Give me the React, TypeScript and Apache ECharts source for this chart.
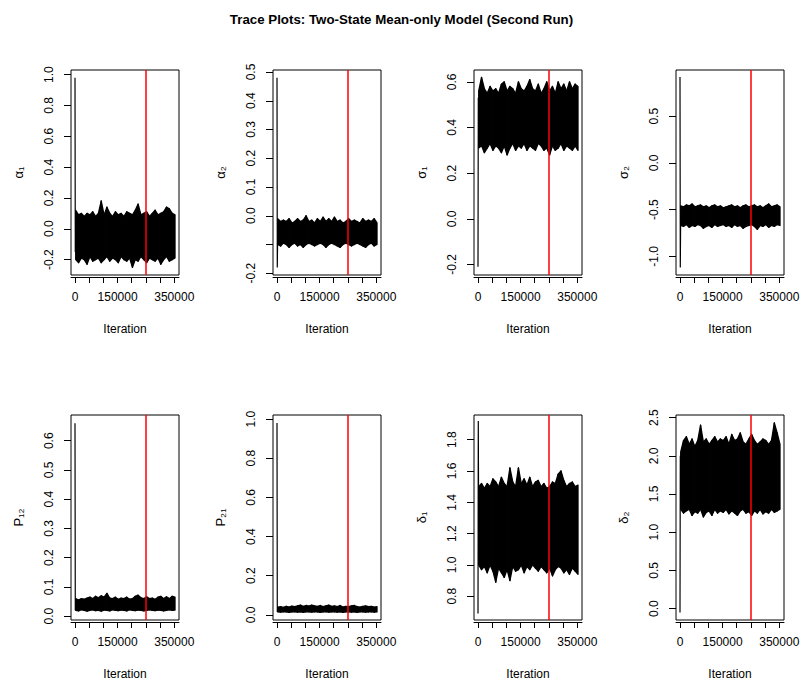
import React, { useEffect, useRef } from "react";
import * as echarts from "echarts";

// Sampled iterations for the trace envelopes (thinned)
const iterations = [
  2500, 12500, 22500, 32500, 42500, 52500, 62500, 72500, 82500, 92500,
  102500, 112500, 122500, 132500, 142500, 152500, 162500, 172500, 182500, 192500,
  202500, 212500, 222500, 232500, 242500, 252500, 262500, 272500, 282500, 292500,
  302500, 312500, 322500, 332500, 342500, 352500,
];
const spikeIterations = [0, 1000, 2500];
const burnIn = 250000;
const xTicks = [0, 50000, 100000, 150000, 200000, 250000, 300000, 350000];
const xTickLabels = [0, 150000, 350000];

// alpha_1
const alpha1Upper = [0.12, 0.09, 0.1, 0.08, 0.1, 0.09, 0.11, 0.08, 0.1, 0.18, 0.09, 0.14, 0.1, 0.08, 0.11, 0.09, 0.1, 0.08, 0.11, 0.1, 0.09, 0.12, 0.16, 0.09, 0.1, 0.11, 0.08, 0.1, 0.12, 0.09, 0.1, 0.11, 0.14, 0.13, 0.1, 0.09];
const alpha1Lower = [-0.2, -0.22, -0.19, -0.2, -0.23, -0.18, -0.21, -0.2, -0.19, -0.22, -0.2, -0.18, -0.21, -0.19, -0.2, -0.22, -0.18, -0.2, -0.21, -0.19, -0.25, -0.2, -0.21, -0.18, -0.2, -0.22, -0.19, -0.2, -0.21, -0.19, -0.23, -0.2, -0.18, -0.21, -0.2, -0.19];
const alpha1Spike = [0.98, -0.15, 0.05];
const alpha1Ticks = [-0.2, 0, 0.2, 0.4, 0.6, 0.8, 1.0];
const alpha1Labels = [-0.2, 0, 0.2, 0.4, 0.6, 0.8, 1.0];

// alpha_2
const alpha2Upper = [-0.01, -0.02, -0.015, -0.02, -0.01, -0.025, -0.02, -0.01, -0.02, -0.015, 0.0, -0.02, -0.015, -0.025, -0.01, -0.02, -0.005, -0.02, -0.01, -0.02, -0.005, -0.02, -0.015, -0.025, -0.02, -0.01, -0.02, -0.015, -0.02, -0.025, -0.01, -0.02, -0.015, -0.02, -0.01, -0.025];
const alpha2Lower = [-0.1, -0.105, -0.095, -0.1, -0.11, -0.1, -0.095, -0.105, -0.1, -0.11, -0.1, -0.095, -0.1, -0.105, -0.1, -0.095, -0.1, -0.11, -0.1, -0.095, -0.1, -0.105, -0.11, -0.1, -0.095, -0.1, -0.105, -0.1, -0.095, -0.1, -0.105, -0.11, -0.1, -0.095, -0.105, -0.1];
const alpha2Spike = [0.48, -0.18, -0.06];
const alpha2Ticks = [-0.2, -0.1, 0, 0.1, 0.2, 0.3, 0.4, 0.5];
const alpha2Labels = [-0.2, 0, 0.1, 0.2, 0.3, 0.4, 0.5];

// sigma_1
const sigma1Upper = [0.56, 0.62, 0.57, 0.55, 0.58, 0.56, 0.57, 0.55, 0.59, 0.6, 0.56, 0.58, 0.57, 0.55, 0.6, 0.57, 0.56, 0.58, 0.61, 0.57, 0.56, 0.59, 0.55, 0.57, 0.6, 0.56, 0.58, 0.55, 0.6, 0.57, 0.59, 0.56, 0.6, 0.57, 0.59, 0.58];
const sigma1Lower = [0.31, 0.32, 0.29, 0.31, 0.33, 0.3, 0.32, 0.31, 0.29, 0.32, 0.28, 0.31, 0.33, 0.3, 0.32, 0.31, 0.33, 0.3, 0.32, 0.31, 0.3, 0.33, 0.32, 0.3, 0.31, 0.28, 0.32, 0.3, 0.31, 0.33, 0.3, 0.32, 0.31, 0.3, 0.32, 0.3];
const sigma1Spike = [-0.21, 0.53, 0.45];
const sigma1Ticks = [-0.2, 0, 0.2, 0.4, 0.6];
const sigma1Labels = [-0.2, 0, 0.2, 0.4, 0.6];

// sigma_2
const sigma2Upper = [-0.46, -0.47, -0.45, -0.46, -0.44, -0.47, -0.46, -0.45, -0.47, -0.46, -0.48, -0.46, -0.45, -0.47, -0.46, -0.48, -0.47, -0.46, -0.45, -0.47, -0.46, -0.48, -0.46, -0.45, -0.47, -0.46, -0.45, -0.47, -0.46, -0.48, -0.46, -0.44, -0.47, -0.46, -0.45, -0.47];
const sigma2Lower = [-0.67, -0.68, -0.66, -0.69, -0.67, -0.68, -0.66, -0.67, -0.7, -0.68, -0.67, -0.69, -0.66, -0.68, -0.67, -0.66, -0.68, -0.67, -0.69, -0.66, -0.68, -0.67, -0.7, -0.68, -0.67, -0.66, -0.68, -0.71, -0.67, -0.68, -0.66, -0.69, -0.67, -0.68, -0.66, -0.67];
const sigma2Spike = [0.92, -1.12, -0.55];
const sigma2Ticks = [-1.0, -0.5, 0, 0.5];
const sigma2Labels = [-1.0, -0.5, 0, 0.5];

// P_12
const p12Upper = [0.06, 0.055, 0.06, 0.058, 0.062, 0.065, 0.06, 0.068, 0.063, 0.07, 0.065, 0.078, 0.062, 0.06, 0.065, 0.058, 0.062, 0.06, 0.065, 0.058, 0.06, 0.068, 0.072, 0.063, 0.06, 0.066, 0.06, 0.062, 0.058, 0.065, 0.068, 0.06, 0.066, 0.06, 0.068, 0.065];
const p12Lower = [0.02, 0.018, 0.022, 0.02, 0.017, 0.02, 0.022, 0.019, 0.02, 0.017, 0.021, 0.02, 0.018, 0.022, 0.02, 0.019, 0.021, 0.02, 0.018, 0.022, 0.02, 0.019, 0.021, 0.02, 0.018, 0.02, 0.022, 0.02, 0.019, 0.021, 0.02, 0.018, 0.02, 0.022, 0.02, 0.021];
const p12Spike = [0.66, 0.02, 0.04];
const p12Ticks = [0, 0.1, 0.2, 0.3, 0.4, 0.5, 0.6];
const p12Labels = [0, 0.1, 0.2, 0.3, 0.4, 0.5, 0.6];

// P_21
const p21Upper = [0.04, 0.042, 0.038, 0.044, 0.04, 0.045, 0.042, 0.046, 0.05, 0.044, 0.048, 0.045, 0.05, 0.046, 0.044, 0.048, 0.042, 0.046, 0.05, 0.044, 0.046, 0.042, 0.048, 0.04, 0.044, 0.042, 0.046, 0.048, 0.042, 0.04, 0.044, 0.046, 0.042, 0.044, 0.04, 0.042];
const p21Lower = [0.015, 0.014, 0.016, 0.015, 0.013, 0.015, 0.016, 0.014, 0.015, 0.013, 0.016, 0.015, 0.014, 0.016, 0.015, 0.013, 0.015, 0.016, 0.014, 0.015, 0.016, 0.014, 0.015, 0.013, 0.015, 0.016, 0.014, 0.015, 0.013, 0.016, 0.015, 0.014, 0.015, 0.016, 0.014, 0.015];
const p21Spike = [0.98, 0.015, 0.03];
const p21Ticks = [0, 0.2, 0.4, 0.6, 0.8, 1.0];
const p21Labels = [0, 0.2, 0.4, 0.6, 0.8, 1.0];

// delta_1
const delta1Upper = [1.5, 1.52, 1.49, 1.52, 1.5, 1.55, 1.53, 1.5, 1.56, 1.52, 1.5, 1.62, 1.53, 1.5, 1.62, 1.52, 1.55, 1.51, 1.56, 1.5, 1.53, 1.54, 1.5, 1.52, 1.49, 1.5, 1.53, 1.52, 1.58, 1.6, 1.54, 1.5, 1.52, 1.53, 1.5, 1.51];
const delta1Lower = [1.0, 0.97, 0.99, 0.95, 1.0, 0.96, 0.89, 0.98, 0.95, 0.92, 0.97, 0.9, 0.99, 0.96, 0.97, 1.0, 0.95, 0.99, 0.97, 1.0, 0.98, 0.96, 0.99, 0.97, 0.95, 0.98, 0.93, 0.97, 0.99, 0.98, 0.95, 0.97, 0.94, 0.98, 0.96, 0.94];
const delta1Spike = [0.69, 1.92, 1.2];
const delta1Ticks = [0.8, 1.0, 1.2, 1.4, 1.6, 1.8];
const delta1Labels = [0.8, 1.0, 1.2, 1.4, 1.6, 1.8];

// delta_2
const delta2Upper = [2.05, 2.2, 2.25, 2.15, 2.22, 2.12, 2.2, 2.4, 2.18, 2.22, 2.15, 2.2, 2.25, 2.18, 2.22, 2.2, 2.25, 2.15, 2.28, 2.2, 2.22, 2.3, 2.18, 2.15, 2.22, 2.28, 2.2, 2.15, 2.18, 2.22, 2.2, 2.15, 2.2, 2.43, 2.3, 2.15];
const delta2Lower = [1.3, 1.25, 1.28, 1.3, 1.22, 1.27, 1.25, 1.3, 1.2, 1.26, 1.28, 1.22, 1.3, 1.25, 1.28, 1.26, 1.3, 1.24, 1.28, 1.25, 1.22, 1.28, 1.3, 1.25, 1.27, 1.22, 1.28, 1.25, 1.3, 1.24, 1.27, 1.25, 1.3, 1.26, 1.28, 1.3];
const delta2Spike = [-0.05, 2.0, 1.7];
const delta2Ticks = [0, 0.5, 1.0, 1.5, 2.0, 2.5];
const delta2Labels = [0, 0.5, 1.0, 1.5, 2.0, 2.5];

const panels = [
  { label: "α₁", upper: alpha1Upper, lower: alpha1Lower, spike: alpha1Spike, min: -0.3, max: 1.03, ticks: alpha1Ticks, labels: alpha1Labels },
  { label: "α₂", upper: alpha2Upper, lower: alpha2Lower, spike: alpha2Spike, min: -0.206, max: 0.507, ticks: alpha2Ticks, labels: alpha2Labels },
  { label: "σ₁", upper: sigma1Upper, lower: sigma1Lower, spike: sigma1Spike, min: -0.246, max: 0.652, ticks: sigma1Ticks, labels: sigma1Labels },
  { label: "σ₂", upper: sigma2Upper, lower: sigma2Lower, spike: sigma2Spike, min: -1.2, max: 0.995, ticks: sigma2Ticks, labels: sigma2Labels },
  { label: "P₁₂", upper: p12Upper, lower: p12Lower, spike: p12Spike, min: -0.013, max: 0.688, ticks: p12Ticks, labels: p12Labels },
  { label: "P₂₁", upper: p21Upper, lower: p21Lower, spike: p21Spike, min: -0.026, max: 1.021, ticks: p21Ticks, labels: p21Labels },
  { label: "δ₁", upper: delta1Upper, lower: delta1Lower, spike: delta1Spike, min: 0.648, max: 1.958, ticks: delta1Ticks, labels: delta1Labels },
  { label: "δ₂", upper: delta2Upper, lower: delta2Lower, spike: delta2Spike, min: -0.149, max: 2.534, ticks: delta2Ticks, labels: delta2Labels },
];

const X_MIN = -14100;
const X_MAX = 366600;
const FONT = "'Liberation Sans', Arial, Helvetica, sans-serif";

// Band between the trace's lower and upper excursions, one quadrilateral per sampled step
const renderBand = (_params: any, api: any) => {
  const a0 = api.coord([api.value(0), api.value(1)]);
  const b0 = api.coord([api.value(0), api.value(2)]);
  const a1 = api.coord([api.value(3), api.value(4)]);
  const b1 = api.coord([api.value(3), api.value(5)]);
  return {
    type: "polygon",
    shape: { points: [a0, b0, b1, a1] },
    style: { fill: "#000", stroke: "#000", lineWidth: 1.3, lineJoin: "round" },
  };
};

export default function App() {
  const ref = useRef<HTMLDivElement>(null);

  useEffect(() => {
    if (!ref.current) return;
    const chart = echarts.init(ref.current, null, { renderer: "svg" });
    const lefts = [71, 273, 474, 676];
    const tops = [70, 415];
    const grid: any[] = [];
    const xAxis: any[] = [];
    const yAxis: any[] = [];
    const series: any[] = [];

    panels.forEach((p, i) => {
      const col = i % 4;
      const row = Math.floor(i / 4);
      grid.push({
        left: lefts[col],
        top: tops[row],
        width: 108,
        height: 205,
        show: true,
        borderColor: "#000",
        borderWidth: 1,
        backgroundColor: "transparent",
      });
      xAxis.push({
        type: "value",
        gridIndex: i,
        min: X_MIN,
        max: X_MAX,
        offset: 2,
        name: "Iteration",
        nameLocation: "middle",
        nameGap: 46,
        nameTextStyle: { color: "#000", fontSize: 12, fontFamily: FONT },
        axisLine: { show: true, onZero: false, lineStyle: { color: "#000", width: 1 } },
        axisTick: { show: true, length: 6, customValues: xTicks, lineStyle: { color: "#000", width: 1 } },
        axisLabel: {
          show: true,
          customValues: xTickLabels,
          formatter: (v: number) => String(v),
          margin: 14,
          color: "#000",
          fontSize: 12,
          fontFamily: FONT,
        },
        splitLine: { show: false },
      });
      yAxis.push({
        type: "value",
        gridIndex: i,
        min: p.min,
        max: p.max,
        name: p.label,
        nameLocation: "middle",
        nameRotate: 90,
        nameGap: 46,
        nameTextStyle: { color: "#000", fontSize: 13, fontFamily: FONT },
        axisLine: { show: false, onZero: false },
        axisTick: { show: true, length: 7, customValues: p.ticks, lineStyle: { color: "#000", width: 1 } },
        axisLabel: {
          show: true,
          customValues: p.labels,
          rotate: 90,
          formatter: (v: number) => v.toFixed(1),
          margin: 16,
          color: "#000",
          fontSize: 12,
          fontFamily: FONT,
        },
        splitLine: { show: false },
      });

      const segments = iterations.slice(0, -1).map((it, k) => [
        it, p.lower[k], p.upper[k],
        iterations[k + 1], p.lower[k + 1], p.upper[k + 1],
      ]);
      series.push({
        type: "custom",
        coordinateSystem: "cartesian2d",
        xAxisIndex: i,
        yAxisIndex: i,
        data: segments,
        encode: { x: [0, 3], y: [1, 2, 4, 5] },
        renderItem: renderBand,
        silent: true,
        clip: true,
      });
      series.push({
        type: "line",
        xAxisIndex: i,
        yAxisIndex: i,
        symbol: "none",
        data: spikeIterations.map((it, k) => [it, p.spike[k]]),
        lineStyle: { color: "#000", width: 1.2 },
        silent: true,
        z: 3,
        markLine: {
          silent: true,
          symbol: "none",
          label: { show: false },
          lineStyle: { color: "#ff0000", width: 1.5, type: "solid" },
          data: [{ xAxis: burnIn }],
        },
      });
    });

    chart.setOption({
      animation: false,
      backgroundColor: "#fff",
      textStyle: { fontFamily: FONT },
      title: {
        text: "Trace Plots: Two-State Mean-only Model (Second Run)",
        left: "center",
        top: 8,
        textStyle: { fontSize: 13.3, fontWeight: "bold", color: "#000", fontFamily: FONT },
      },
      grid,
      xAxis,
      yAxis,
      series,
    });

    return () => {
      chart.dispose();
    };
  }, []);

  return (
    <div
      ref={ref}
      style={{ position: "absolute", left: 0, top: 0, width: 803, height: 684 }}
    />
  );
}
